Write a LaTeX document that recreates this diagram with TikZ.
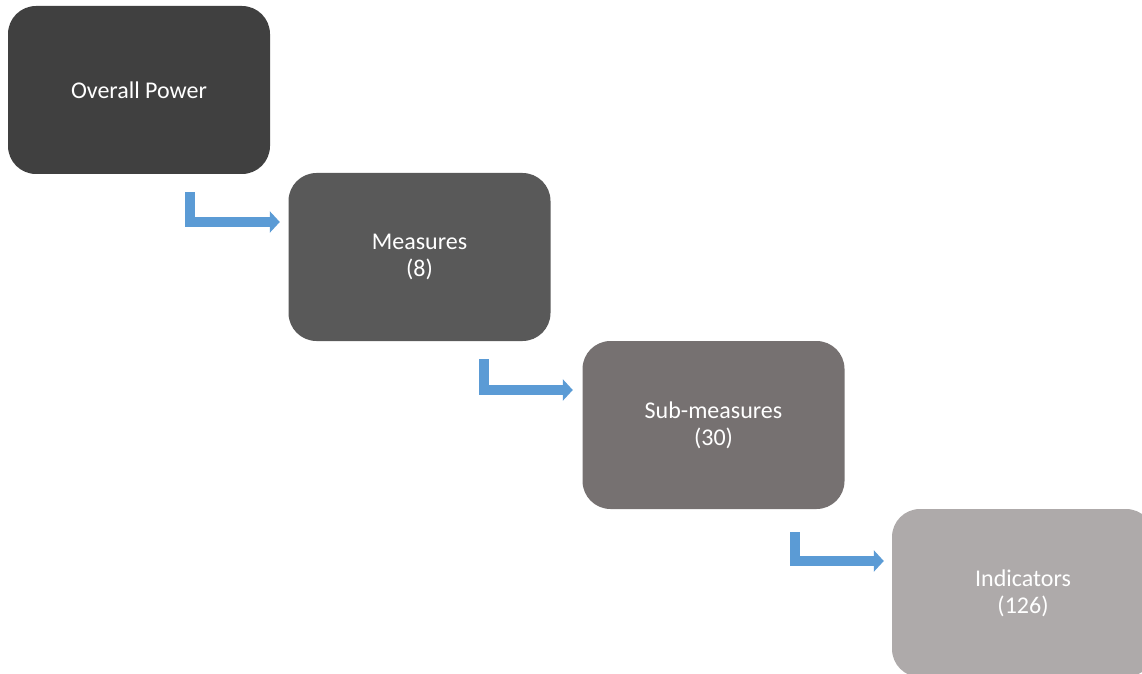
\documentclass[tikz,border=0pt]{standalone}
\usepackage{fontspec}
\setmainfont{Carlito}
\usetikzlibrary{arrows.meta}

\definecolor{levelA}{HTML}{404040}
\definecolor{levelB}{HTML}{595959}
\definecolor{levelC}{HTML}{767171}
\definecolor{levelD}{HTML}{AEAAAA}
\definecolor{flowblue}{HTML}{5B9BD5}

\tikzset{
  level/.style={rectangle, rounded corners=28pt, minimum width=262pt, minimum height=168pt,
    text=white, align=center, inner sep=0pt, font=\fontsize{24}{27}\selectfont},
  flow/.style={flowblue, line width=10pt, -{Triangle[width=21pt,length=10pt]}}
}

\begin{document}
\begin{tikzpicture}[x=1pt, y=1pt]
    \useasboundingbox (0,0) rectangle (1142,673);
    \clip (0,0) rectangle (1142,673);

    \node[level, fill=levelA] (P1) at (139, 583) {Overall Power};
    \node[level, fill=levelB] (P2) at (419.5, 416) {Measures\\(8)};
    \node[level, fill=levelC] (P3) at (713.5, 248) {Sub-measures\\(30)};
    \node[level, fill=levelD] (P4) at (1023, 80) {Indicators\\(126)};

    \draw[flow] ([shift={(51,-18)}]P1.south) |- ([shift={(-8.5,35)}]P2.west);
    \draw[flow] ([shift={(64,-18)}]P2.south) |- ([shift={(-9.5,35)}]P3.west);
    \draw[flow] ([shift={(81.5,-23)}]P3.south) |- ([shift={(-8,32)}]P4.west);
  \end{tikzpicture}
\end{document}
